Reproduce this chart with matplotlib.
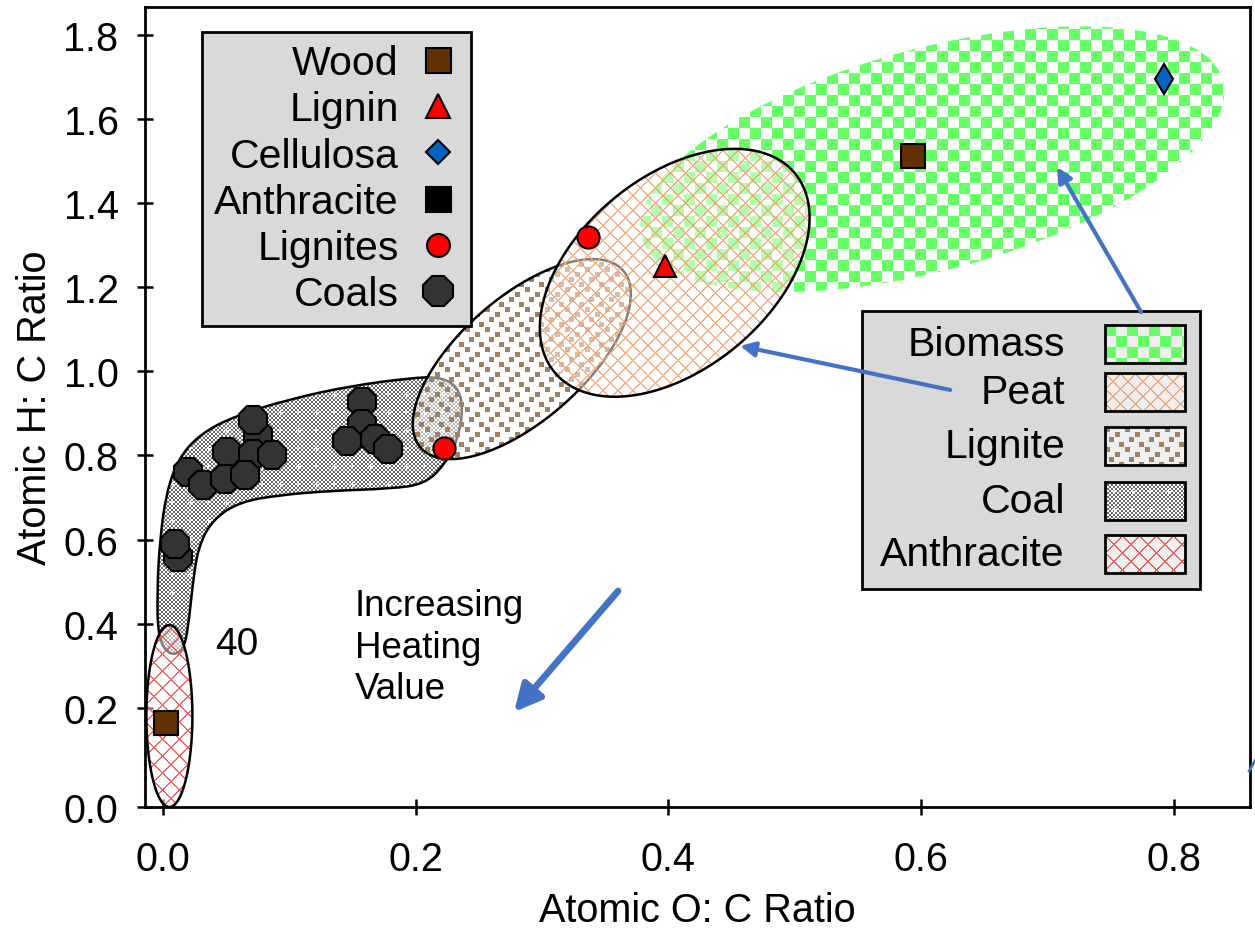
import numpy as np
import matplotlib
matplotlib.use("Agg")
import matplotlib.pyplot as plt
from matplotlib.patches import Polygon, Rectangle, FancyArrowPatch, PathPatch
from matplotlib.path import Path
from matplotlib.lines import Line2D

plt.rcParams["font.family"] = ["Liberation Sans", "DejaVu Sans"]

# --- data (atomic O:C, H:C) ---
wood_x = [0.594, 0.002]
wood_y = [1.512, 0.164]
lignin_x = [0.397]
lignin_y = [1.250]
cellulosa_x = [0.792]
cellulosa_y = [1.695]
lignites_x = [0.336, 0.222]
lignites_y = [1.319, 0.818]
coals_x = [0.0752, 0.1575, 0.1575, 0.1457, 0.1678, 0.1781, 0.0712, 0.0507, 0.0712,
           0.0863, 0.0198, 0.0317, 0.0491, 0.0649, 0.0119, 0.0095]
coals_y = [0.849, 0.927, 0.875, 0.834, 0.839, 0.815, 0.885, 0.809, 0.804,
           0.802, 0.761, 0.730, 0.745, 0.754, 0.559, 0.590]

# region centres (O:C, H:C)
region_names = ["Biomass", "Peat", "Lignite", "Coal", "Anthracite"]
biomass_c = (0.609, 1.504)
peat_c = (0.405, 1.234)
lignite_c = (0.284, 1.029)
anthracite_c = (0.005, 0.181)
coal_outline_x = [0.0055, -0.0040, -0.0047, -0.0024, 0.0024, 0.0119, 0.0293, 0.0570, 0.1005,
                  0.1480, 0.1956, 0.2193, 0.2335, 0.2375, 0.2335, 0.2232, 0.2074, 0.1797,
                  0.1322, 0.0926, 0.0610, 0.0396, 0.0277, 0.0230, 0.0198, 0.0158]
coal_outline_y = [0.324, 0.364, 0.483, 0.602, 0.709, 0.792, 0.851, 0.894, 0.934,
                  0.965, 0.984, 0.987, 0.963, 0.911, 0.839, 0.780, 0.732, 0.721,
                  0.716, 0.706, 0.690, 0.649, 0.583, 0.483, 0.388, 0.336]

xticks = [0.0, 0.2, 0.4, 0.6, 0.8]
ytick_labels = ["0.0", "0.2", "0.4", "0.6", "0.8", "1.0", "1.2", "1.4", "1.6", "1.8"]

XLIM = (-0.0143, 0.8604)
YLIM = (-0.0352, 1.8655)
BLUE = "#4472c4"

fig = plt.figure(figsize=(12.55, 9.29), dpi=100)
ax = fig.add_axes([145 / 1255, 1 - 808 / 929, 1105 / 1255, 800 / 929])
AXW, AXH = 1105, 800
sx = AXW / (XLIM[1] - XLIM[0])
sy = AXH / (YLIM[1] - YLIM[0])


def ax2data(fx, fy):
    return XLIM[0] + fx * (XLIM[1] - XLIM[0]), YLIM[0] + fy * (YLIM[1] - YLIM[0])


def ellipse_xy(c, a_px, b_px, angle):
    t = np.linspace(0, 2 * np.pi, 240)
    th = np.radians(angle)
    dx = a_px * np.cos(t) * np.cos(th) - b_px * np.sin(t) * np.sin(th)
    dy = a_px * np.cos(t) * np.sin(th) + b_px * np.sin(t) * np.cos(th)
    return np.column_stack([c[0] + dx / sx, c[1] + dy / sy])


def pattern(kind, h, w, bg=None):
    r, c = np.mgrid[0:h, 0:w]
    img = np.zeros((h, w, 4))
    if bg is not None:
        img[:] = bg
    if kind == "Biomass":
        m = ((r // 11) + (c // 11)) % 2 == 0
        img[m] = (0.40, 1.0, 0.40, 1.0)
    elif kind == "Peat":
        m = ((r + c) % 15 < 2) | ((r - c) % 15 < 2)
        img[m] = (0.96, 0.62, 0.40, 0.8)
    elif kind == "Anthracite":
        m = ((r + c) % 17 < 2) | ((r - c) % 17 < 2)
        img[m] = (0.95, 0.30, 0.30, 0.85)
    elif kind == "Lignite":
        m = np.zeros((h, w), bool)
        for oy, ox in [(0, 0), (5, 10), (10, 4), (15, 14)]:
            m |= (((r - oy) % 20) < 5) & (((c - ox) % 20) < 5)
        img[m] = (0.63, 0.51, 0.38, 1.0)
    elif kind == "Coal":
        img[:] = (1, 1, 1, 1)
        m = ((r // 2) + (c // 2)) % 2 == 0
        img[m] = (0.42, 0.42, 0.42, 1.0)
        cr, cc = r % 18, c % 18
        plus = ((cr == 9) & (np.abs(cc - 9) <= 2)) | ((cc == 9) & (np.abs(cr - 9) <= 2))
        img[plus] = (1, 1, 1, 1)
    return img


def region(kind, patch, z, outline=True, veil=0.5):
    ax.add_patch(patch)
    patch.set_zorder(z)
    patch.set_facecolor((1, 1, 1, veil))
    patch.set_edgecolor("none")
    im = ax.imshow(pattern(kind, AXH, AXW), extent=(XLIM[0], XLIM[1], YLIM[0], YLIM[1]),
                   origin="upper", interpolation="nearest", aspect="auto", zorder=z + 0.1)
    im.set_clip_path(patch)
    if outline:
        edge = PathPatch(patch.get_path(), transform=patch.get_transform(), fill=False,
                         edgecolor="black", lw=1.8, zorder=z + 0.2)
        ax.add_patch(edge)


# biomass (no outline)
region("Biomass", Polygon(ellipse_xy(biomass_c, 301, 111, 15.1)), 1, outline=False, veil=0)

# coal: smooth closed curve through control points
pts = np.column_stack([coal_outline_x, coal_outline_y])
mids = (pts + np.roll(pts, -1, axis=0)) / 2
verts = [mids[-1]]
codes = [Path.MOVETO]
for i in range(len(pts)):
    verts += [pts[i], mids[i]]
    codes += [Path.CURVE3, Path.CURVE3]
verts.append(mids[-1])
codes.append(Path.CLOSEPOLY)
region("Coal", PathPatch(Path(verts, codes)), 2, veil=0)

region("Anthracite", Polygon(ellipse_xy(anthracite_c, 91, 23, 90)), 3)
region("Lignite", Polygon(ellipse_xy(lignite_c, 134.5, 61.6, 41.2)), 4)
region("Peat", Polygon(ellipse_xy(peat_c, 156, 96, 39.6)), 5)

# markers
ax.plot(coals_x, coals_y, ls="none", marker="8", ms=22.5, mfc="#333333", mec="black", mew=1.5, zorder=6)
ax.plot(wood_x, wood_y, ls="none", marker="s", ms=17, mfc="#603000", mec="black", mew=1.5, zorder=6)
ax.plot(lignin_x, lignin_y, ls="none", marker="^", ms=16.5, mfc="red", mec="black", mew=1.5, zorder=6)
ax.plot(cellulosa_x, cellulosa_y, ls="none", marker="d", ms=15, mfc="#0563c1", mec="black", mew=1.5, zorder=6)
ax.plot(lignites_x, lignites_y, ls="none", marker="o", ms=16, mfc="red", mec="black", mew=1.5, zorder=6)

# texts
ax.text(0.0586, 0.352, "40", fontsize=28, ha="center", va="center", zorder=7)
ax.text(0.152, 0.484, "Increasing\nHeating\nValue", fontsize=26.5, linespacing=1.24,
        ha="left", va="top", zorder=7)

# arrows
arrows = [((0.3602, 0.4780), (0.2778, 0.1905), 4.8, 40),
          ((0.7742, 1.1407), (0.7077, 1.4852), 3.0, 22),
          ((0.6230, 0.9558), (0.4567, 1.0603), 3.0, 22)]
for (x0, y0), (x1, y1), lw, ms in arrows:
    ax.add_patch(FancyArrowPatch((x0, y0), (x1, y1), arrowstyle="-|>", mutation_scale=ms,
                                 lw=lw, color=BLUE, shrinkA=0, shrinkB=0, zorder=9))
ax.plot([0.8597, 0.8652], [0.0504, 0.0789], color=BLUE, lw=2, clip_on=False, zorder=9)

# marker legend
handles = [
    Line2D([], [], ls="none", marker="s", ms=18, mfc="#603000", mec="black", mew=1.5),
    Line2D([], [], ls="none", marker="^", ms=17, mfc="red", mec="black", mew=1.5),
    Line2D([], [], ls="none", marker="D", ms=12.5, mfc="#0563c1", mec="black", mew=1.5),
    Line2D([], [], ls="none", marker="s", ms=18, mfc="black", mec="black", mew=1.5),
    Line2D([], [], ls="none", marker="o", ms=16.5, mfc="red", mec="black", mew=1.5),
    Line2D([], [], ls="none", marker="8", ms=23, mfc="#333333", mec="black", mew=1.5),
]
labels = ["Wood", "Lignin", "Cellulosa", "Anthracite", "Lignites", "Coals"]
leg = ax.legend(handles, labels, loc="upper left", bbox_to_anchor=((202 - 145) / 1105, (808 - 33) / 800),
                markerfirst=False, fontsize=29.5, frameon=True, fancybox=False, framealpha=1,
                facecolor="#d9d9d9", edgecolor="black", borderpad=0.3, labelspacing=0.2,
                handlelength=1.0, handletextpad=0.45, borderaxespad=0)
leg.get_frame().set_linewidth(2)
leg.set_zorder(8)

# pattern legend (drawn by hand)
bx0, bx1 = (862 - 145) / AXW, (1200 - 145) / AXW
by1, by0 = (808 - 312) / AXH, (808 - 590) / AXH
ax.add_patch(Rectangle((bx0, by0), bx1 - bx0, by1 - by0, transform=ax.transAxes, facecolor="#d9d9d9",
                       edgecolor="black", lw=2, zorder=8, clip_on=False))
row_px = [345, 393, 447, 502, 555]
sw_x0, sw_x1 = (1105 - 145) / AXW, (1185 - 145) / AXW
for name, py in zip(region_names, row_px):
    fy = (808 - py) / AXH
    ax.text((1065 - 145) / AXW, fy, name, transform=ax.transAxes, fontsize=29.5, ha="right",
            va="center", zorder=8.2)
    h = 19 / AXH
    xa, ya = ax2data(sw_x0, fy - h)
    xb, yb = ax2data(sw_x1, fy + h)
    img = pattern(name, 38, 80, bg=(1, 1, 1, 0.6))
    ax.imshow(img, extent=(xa, xb, ya, yb), origin="upper", interpolation="nearest",
              aspect="auto", zorder=8.3)
    ax.add_patch(Rectangle((xa, ya), xb - xa, yb - ya, fill=False, edgecolor="black", lw=2, zorder=8.4))

# axes styling
ax.set_xlim(*XLIM)
ax.set_ylim(*YLIM)
ax.set_xticks(xticks)
ax.set_xticklabels(["0.0", "0.2", "0.4", "0.6", "0.8"])
ax.set_yticks([YLIM[0], 0.2, 0.4, 0.6, 0.8, 1.0, 1.2, 1.4, 1.6, 1.8])
ax.set_yticklabels(ytick_labels)
ax.tick_params(axis="both", direction="inout", length=12, width=1.8, labelsize=28.5)
ax.tick_params(axis="y", pad=13)
ax.tick_params(axis="x", pad=18)
for s in ax.spines.values():
    s.set_linewidth(2)
ax.set_xlabel("Atomic O: C Ratio", fontsize=28.5, labelpad=9)
ax.set_ylabel("Atomic H: C Ratio", fontsize=28.5, labelpad=7)

fig.savefig("out.png", dpi=100)
